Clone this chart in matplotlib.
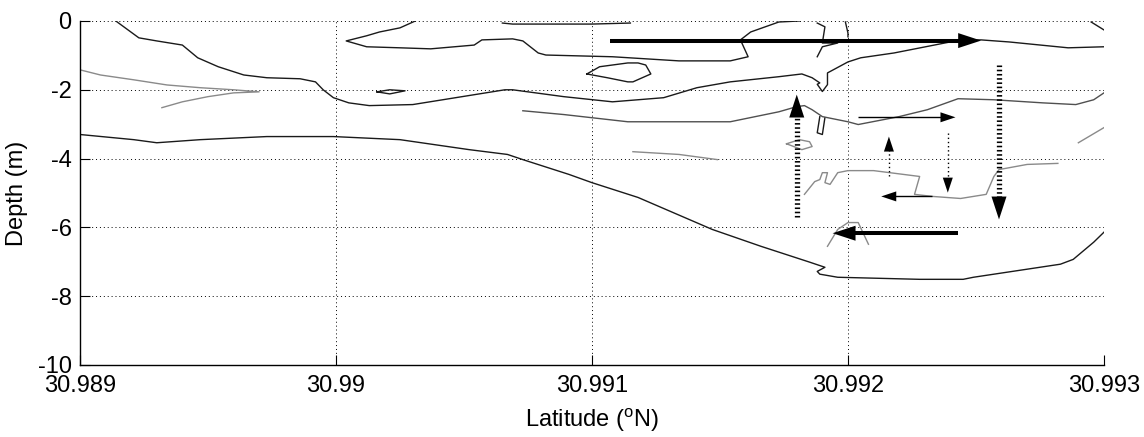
import matplotlib
matplotlib.use("Agg")
import numpy as np
import matplotlib.pyplot as plt

plt.rcParams['font.family'] = ['Liberation Sans', 'DejaVu Sans']
plt.rcParams['mathtext.fontset'] = 'custom'
plt.rcParams['mathtext.rm'] = 'Liberation Sans'
plt.rcParams['axes.unicode_minus'] = False

# contour lines (latitude in deg N, depth in m)
lat_a = [30.98914, 30.98923, 30.98930, 30.98940, 30.98946, 30.98954, 30.98964, 30.98973,
         30.98986, 30.98992, 30.98995, 30.98999, 30.99005, 30.99013, 30.99030, 30.99066,
         30.99069, 30.99089, 30.99108, 30.99128, 30.99141, 30.99154, 30.99173, 30.99182,
         30.99186, 30.99189, 30.99188, 30.99190, 30.99192, 30.99192, 30.99200, 30.99205,
         30.99218, 30.99244, 30.99252, 30.99263, 30.99286, 30.99300]
dep_a = [0.00, -0.49, -0.58, -0.70, -1.07, -1.33, -1.57, -1.65,
         -1.68, -1.77, -2.00, -2.23, -2.38, -2.46, -2.43, -2.00,
         -2.00, -2.20, -2.35, -2.23, -1.94, -1.77, -1.62, -1.54,
         -1.65, -1.80, -1.84, -2.05, -1.85, -1.51, -1.19, -1.07,
         -0.93, -0.55, -0.55, -0.61, -0.78, -0.75]

lat_b = [30.99031, 30.99025, 30.99017, 30.99012, 30.99004, 30.99012, 30.99025, 30.99037,
         30.99054, 30.99057, 30.99069, 30.99073, 30.99079, 30.99082, 30.99108, 30.99134,
         30.99154, 30.99161, 30.99158, 30.99162, 30.99173, 30.99181]
dep_b = [0.00, -0.20, -0.32, -0.43, -0.58, -0.75, -0.78, -0.81,
         -0.70, -0.55, -0.52, -0.58, -0.93, -0.99, -1.04, -1.16,
         -1.16, -1.04, -0.55, -0.32, -0.03, 0.00]

lat_c = [30.99065, 30.99069, 30.99100, 30.99115]
dep_c = [-0.06, -0.09, -0.09, -0.06]

lat_d = [30.99098, 30.99103, 30.99114, 30.99118, 30.99121, 30.99123, 30.99116, 30.99114,
         30.99106, 30.99098]
dep_d = [-1.54, -1.33, -1.22, -1.22, -1.28, -1.54, -1.77, -1.77, -1.65, -1.54]

lat_e = [30.99016, 30.99021, 30.99027, 30.99021, 30.99016]
dep_e = [-2.06, -2.00, -2.03, -2.12, -2.06]

lat_f = [30.98900, 30.98908, 30.98921, 30.98934, 30.98947, 30.98960, 30.98970, 30.98960,
         30.98950, 30.98940, 30.98932]
dep_f = [-1.42, -1.57, -1.71, -1.86, -1.94, -2.00, -2.06, -2.09, -2.20, -2.35, -2.52]

lat_g = [30.99073, 30.99089, 30.99114, 30.99154, 30.99173, 30.99180, 30.99183, 30.99186,
         30.99190, 30.99200, 30.99204, 30.99220, 30.99231, 30.99243, 30.99257, 30.99276,
         30.99289, 30.99296, 30.99300]
dep_g = [-2.61, -2.72, -2.93, -2.93, -2.64, -2.49, -2.46, -2.58,
         -2.78, -2.93, -3.01, -2.78, -2.58, -2.26, -2.29, -2.38,
         -2.43, -2.29, -2.09]

lat_h = [30.99189, 30.99188, 30.99190, 30.99191]
dep_h = [-2.78, -3.25, -3.30, -2.81]

lat_i = [30.98900, 30.98921, 30.98930, 30.98947, 30.98973, 30.98999, 30.99025, 30.99052,
         30.99067, 30.99073, 30.99091, 30.99100, 30.99118, 30.99147, 30.99166, 30.99185,
         30.99191, 30.99188, 30.99189, 30.99196, 30.99228, 30.99245, 30.99249, 30.99283,
         30.99288, 30.99296, 30.99300]
dep_i = [-3.30, -3.45, -3.54, -3.45, -3.36, -3.36, -3.45, -3.74,
         -3.88, -4.03, -4.46, -4.70, -5.13, -6.06, -6.55, -7.01,
         -7.16, -7.28, -7.36, -7.45, -7.51, -7.51, -7.45, -7.07,
         -6.93, -6.43, -6.14]

lat_j = [30.99116, 30.99134, 30.99149]
dep_j = [-3.80, -3.88, -4.03]

lat_k = [30.99183, 30.99187, 30.99189, 30.99190, 30.99192, 30.99191, 30.99193, 30.99196,
         30.99200, 30.99210, 30.99228, 30.99226, 30.99233, 30.99244, 30.99254, 30.99257,
         30.99259, 30.99270, 30.99282]
dep_k = [-5.04, -4.67, -4.61, -4.41, -4.41, -4.70, -4.75, -4.41,
         -4.35, -4.35, -4.52, -5.04, -5.10, -5.16, -5.04, -4.52,
         -4.32, -4.17, -4.14]

lat_l = [30.99176, 30.99181, 30.99185, 30.99186, 30.99182, 30.99176]
dep_l = [-3.57, -3.45, -3.51, -3.65, -3.74, -3.57]

lat_m = [30.99290, 30.99300]
dep_m = [-3.54, -3.10]

lat_n = [30.99192, 30.99196, 30.99200, 30.99204, 30.99208]
dep_n = [-6.55, -6.06, -5.86, -5.86, -6.49]

lat_o = [30.99199, 30.99200, 30.99200]
dep_o = [-0.03, -0.35, -0.46]

lat_p = [30.99188, 30.99191, 30.99190, 30.99196, 30.99190, 30.99188]
dep_p = [-0.06, -0.17, -0.64, -0.64, -0.75, -1.04]

lat_q = [30.99295, 30.99300]
dep_q = [-0.03, -0.26]

dark_lines = [(lat_a, dep_a), (lat_b, dep_b), (lat_c, dep_c), (lat_d, dep_d),
              (lat_e, dep_e), (lat_i, dep_i), (lat_o, dep_o), (lat_p, dep_p),
              (lat_q, dep_q), (lat_h, dep_h)]
mid_lines = [(lat_g, dep_g)]
gray_lines = [(lat_f, dep_f), (lat_j, dep_j), (lat_k, dep_k), (lat_l, dep_l),
              (lat_m, dep_m), (lat_n, dep_n)]

# flow arrows: start -> tip
arrow_lat0 = [30.99107, 30.99180, 30.99259, 30.99204, 30.99216, 30.99239, 30.99233, 30.99243]
arrow_lat1 = [30.99252, 30.99180, 30.99259, 30.99242, 30.99216, 30.99239, 30.99213, 30.99194]
arrow_dep0 = [-0.57, -5.71, -1.28, -2.80, -4.52, -3.25, -5.10, -6.17]
arrow_dep1 = [-0.57, -2.14, -5.77, -2.80, -3.36, -4.99, -5.10, -6.17]
arrow_thick = [True, True, True, False, False, False, False, True]
arrow_dotted = [False, True, True, False, True, True, False, False]

xticks = [30.989, 30.990, 30.991, 30.992, 30.993]
xticklabels = ['30.989', '30.99', '30.991', '30.992', '30.993']
yticks = [-10, -8, -6, -4, -2, 0]

fig = plt.figure(figsize=(11.44, 4.37), dpi=100)
ax = fig.add_axes([0.0699, 0.1648, 0.8951, 0.7872])
ax.set_xlim(30.989, 30.993)
ax.set_ylim(-10, 0)

for lat, dep in dark_lines:
    ax.plot(lat, dep, color='#1a1a1a', lw=1.0)
for lat, dep in mid_lines:
    ax.plot(lat, dep, color='#505050', lw=1.0)
for lat, dep in gray_lines:
    ax.plot(lat, dep, color='#8a8a8a', lw=1.0)

px_per_pt = fig.dpi / 72.0
for x0, x1, y0, y1, thick, dotted in zip(arrow_lat0, arrow_lat1, arrow_dep0, arrow_dep1,
                                         arrow_thick, arrow_dotted):
    if thick:
        hl, hw = 16.5, 5.4
        lw = 3.8 if dotted else 2.9
    else:
        hl, hw = 10.8, 3.6
        lw = 1.0
    if dotted:
        ls = (0, (0.3, 0.5)) if thick else (0, (1, 2))
    else:
        ls = '-'
    # shaft stops inside the head so the tip stays sharp
    p0 = ax.transData.transform((x0, y0))
    p1 = ax.transData.transform((x1, y1))
    d = (p1 - p0) / np.hypot(*(p1 - p0))
    pe = p1 - d * hl * px_per_pt * 0.6
    xe, ye = ax.transData.inverted().transform(pe)
    ax.plot([x0, xe], [y0, ye], color='k', lw=lw, linestyle=ls,
            dash_capstyle='butt', solid_capstyle='butt')
    # head
    ax.annotate('', xy=(x1, y1), xytext=(x0, y0),
                arrowprops=dict(arrowstyle='-|>,head_length=%g,head_width=%g' % (hl, hw),
                                mutation_scale=1, lw=0, color='k',
                                shrinkA=0, shrinkB=0))

ax.set_xticks(xticks)
ax.set_xticklabels(xticklabels)
ax.set_yticks(yticks)

ax.grid(True, color='k', lw=0.7, linestyle=(0, (1, 3)))
ax.spines['top'].set_visible(False)
ax.spines['right'].set_visible(False)
ax.spines['left'].set_linewidth(1.0)
ax.spines['bottom'].set_linewidth(1.0)
ax.tick_params(direction='in', length=7, width=0.8, labelsize=17, top=False, right=False)
ax.tick_params(axis='x', pad=7)
ax.tick_params(axis='y', pad=6)

ax.set_xlabel(r'Latitude ($^\mathregular{o}$N)', fontsize=17, labelpad=7)
ax.set_ylabel('Depth (m)', fontsize=17, labelpad=7)

fig.savefig('out.png', dpi=100)
